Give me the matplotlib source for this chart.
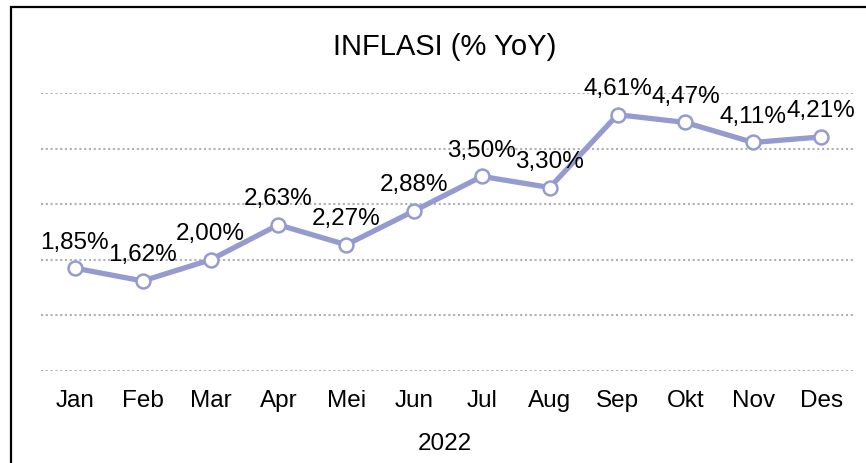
import matplotlib
matplotlib.use("Agg")
import matplotlib.pyplot as plt
from matplotlib.patches import Rectangle

# -----------------------------
# Data
# -----------------------------
months = ['Jan', 'Feb', 'Mar', 'Apr', 'Mei', 'Jun', 'Jul', 'Aug', 'Sep', 'Okt', 'Nov', 'Des']
inflasi = [1.85, 1.62, 2.00, 2.63, 2.27, 2.88, 3.50, 3.30, 4.61, 4.47, 4.11, 4.21]
year_label = '2022'
title = 'INFLASI (% YoY)'

plt.rcParams['font.family'] = ['Liberation Sans', 'DejaVu Sans']

line_color = '#959BCF'
grid_color = '#B0B0B0'

# -----------------------------
# Figure / axes
# -----------------------------
fig = plt.figure(figsize=(8.66, 4.63), dpi=100)
ax = fig.add_axes([41 / 866, 1 - 371 / 463, (855 - 41) / 866, (371 - 93) / 463])

x = list(range(len(months)))
ax.plot(x, inflasi, color=line_color, linewidth=3.8, marker='o', markersize=10,
        markerfacecolor='white', markeredgecolor=line_color, markeredgewidth=1.8,
        zorder=3, clip_on=False)

for xi, v in zip(x, inflasi):
    ax.annotate(f"{v:.2f}%".replace('.', ','), (xi, v), xytext=(0, 14),
                textcoords='offset points', ha='center', va='baseline',
                fontsize=17.5, color='black', zorder=4, annotation_clip=False)

ax.set_xlim(-0.5, len(months) - 0.5)
ax.set_ylim(0, 5)
ax.set_xticks(x)
ax.set_xticklabels(months, fontsize=17.5)
ax.set_yticks([0, 1, 2, 3, 4, 5])
ax.set_yticklabels([])
ax.tick_params(axis='both', length=0)
ax.tick_params(axis='x', pad=14)
ax.grid(axis='y', color=grid_color, linestyle=(0, (1, 1.3)), linewidth=1.5)
ax.set_axisbelow(True)
for s in ax.spines.values():
    s.set_visible(False)

# title and year label
fig.text(445 / 866, 1 - 55 / 463, title, ha='center', va='baseline', fontsize=21)
fig.text(445 / 866, 1 - 450 / 463, year_label, ha='center', va='baseline', fontsize=17.5)

# chart border (cut off on the right and bottom)
fig.patches.append(Rectangle((10.5 / 866, -0.05), 1.0, (463 - 6.5) / 463 + 0.05,
                             transform=fig.transFigure, fill=False,
                             edgecolor='black', linewidth=1.6))

fig.savefig('out.png', dpi=100)
